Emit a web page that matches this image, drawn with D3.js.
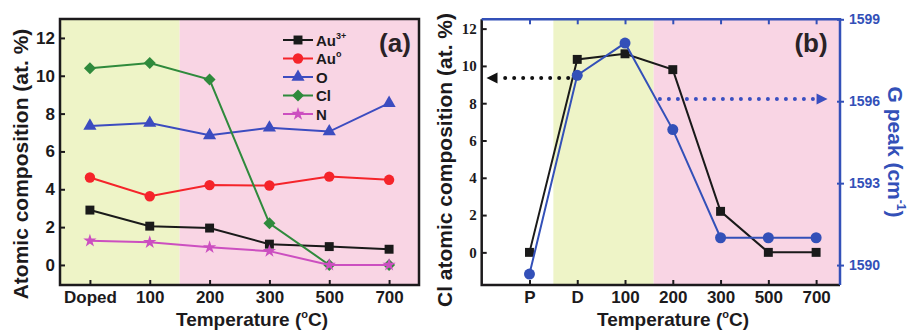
<!DOCTYPE html>
<html><head><meta charset="utf-8">
<script src="https://cdn.jsdelivr.net/npm/d3@7"></script>
<style>body{margin:0;background:#fff}svg{display:block}text{font-family:"Liberation Sans",Arial,sans-serif;font-weight:bold}</style>
</head><body>
<svg id="c" width="907" height="330"></svg>
<script>
// ---------- data ----------
const catsA = ["Doped","100","200","300","500","700"];
const au3  = [2.9, 2.05, 1.95, 1.1, 0.97, 0.83];
const au0  = [4.62, 3.63, 4.22, 4.2, 4.67, 4.5];
const oxy  = [7.35, 7.5, 6.85, 7.25, 7.05, 8.55];
const clA  = [10.4, 10.67, 9.8, 2.2, 0, 0];
const nit  = [1.28, 1.2, 0.93, 0.73, 0, 0];
const yTicksA = [0,2,4,6,8,10,12];

const catsB = ["P","D","100","200","300","500","700"];
const clB   = [0, 10.35, 10.65, 9.8, 2.2, 0, 0];
const gPeak = [1589.67, 1596.95, 1598.13, 1594.96, 1591.0, 1591.0, 1591.0];
const yTicksBL = [0,2,4,6,8,10,12];
const yTicksBR = [1590,1593,1596,1599];

const svg = d3.select("#c");
const DARK = "#1c1a1c", BLUE = "#3350b8";
const GREEN_BG = "#eef4c7", PINK_BG = "#f9d5e4";

// ---------- panel (a) ----------
const xA = d3.scaleLinear().domain([-0.5,5.5]).range([60,419]);
const yA = d3.scaleLinear().domain([-1.06,13]).range([285,19]);
const gA = svg.append("g");
gA.append("rect").attr("x",xA(-0.5)).attr("y",yA(13)).attr("width",xA(1.5)-xA(-0.5)).attr("height",yA(-1.06)-yA(13)).attr("fill",GREEN_BG);
gA.append("rect").attr("x",xA(1.5)).attr("y",yA(13)).attr("width",xA(5.5)-xA(1.5)).attr("height",yA(-1.06)-yA(13)).attr("fill",PINK_BG);

const seriesA = [
  {name:"Au", sup:"3+", vals:au3, color:"#1a1a1a", sym:"square"},
  {name:"Au", sup:"o",  vals:au0, color:"#f5242a", sym:"circle"},
  {name:"O",  sup:"",   vals:oxy, color:"#3c4cc0", sym:"triangle"},
  {name:"Cl", sup:"",   vals:clA, color:"#2f8a3c", sym:"diamond"},
  {name:"N",  sup:"",   vals:nit, color:"#cc4fc0", sym:"star"}
];
function symPath(t){
  if(t==="square") return d3.symbol(d3.symbolSquare,80)();
  if(t==="circle") return d3.symbol(d3.symbolCircle,85)();
  if(t==="triangle") return d3.symbol(d3.symbolTriangle,75)();
  if(t==="diamond") return d3.symbol(d3.symbolSquare,72)();
  return d3.symbol(d3.symbolStar,55)();
}
function symTransform(t,x,y){ return `translate(${x},${y})` + (t==="diamond"?" rotate(45)":""); }

const lineA = d3.line().x((d,i)=>xA(i)).y(d=>yA(d));
seriesA.forEach(s=>{
  gA.append("path").attr("d",lineA(s.vals)).attr("fill","none").attr("stroke",s.color).attr("stroke-width",2);
  gA.selectAll(null).data(s.vals).join("path")
    .attr("d",symPath(s.sym)).attr("transform",(d,i)=>symTransform(s.sym,xA(i),yA(d))).attr("fill",s.color);
});

// axes (a)
const axLA = gA.append("g").attr("transform",`translate(${xA(-0.5)},0)`)
  .call(d3.axisLeft(yA).tickValues(yTicksA).tickSize(-5).tickPadding(5));
const axBA = gA.append("g").attr("transform",`translate(0,${yA(-1.06)})`)
  .call(d3.axisBottom(xA).tickValues(d3.range(6)).tickFormat(i=>catsA[i]).tickSize(-5).tickPadding(6));
[axLA,axBA].forEach(a=>{
  a.select(".domain").remove();
  a.selectAll("line").attr("stroke",DARK).attr("stroke-width",2);
  a.selectAll("text").attr("fill",DARK).style("font-size","17px").style("font-family",'"Liberation Sans",Arial,sans-serif');
});
gA.append("rect").attr("x",xA(-0.5)).attr("y",yA(13)).attr("width",xA(5.5)-xA(-0.5)).attr("height",yA(-1.06)-yA(13))
  .attr("fill","none").attr("stroke",DARK).attr("stroke-width",2.5);

// legend (a)
seriesA.forEach((s,i)=>{
  const y = 40 + i*18.5;
  gA.append("line").attr("x1",283).attr("x2",313).attr("y1",y).attr("y2",y).attr("stroke",s.color).attr("stroke-width",2);
  gA.append("path").attr("d",symPath(s.sym)).attr("transform",symTransform(s.sym,298,y)).attr("fill",s.color);
  const t = gA.append("text").attr("x",316).attr("y",y+5.5).attr("fill",DARK).style("font-size","15px").text(s.name);
  if(s.sup) t.append("tspan").attr("dy",-7).style("font-size","9px").text(s.sup);
});
gA.append("text").attr("x",395).attr("y",52).attr("text-anchor","middle").attr("fill","#2a2226").style("font-size","26px").text("(a)");

// titles (a)
gA.append("text").attr("transform","translate(28,164) rotate(-90)").attr("text-anchor","middle").attr("fill",DARK)
  .style("font-size","21px").text("Atomic composition (at. %)");
const tA = gA.append("text").attr("x",252).attr("y",326).attr("text-anchor","middle").attr("fill",DARK).style("font-size","19px");
tA.append("tspan").text("Temperature (");
tA.append("tspan").attr("dy",-8).style("font-size","11px").text("o");
tA.append("tspan").attr("dy",8).text("C)");

// ---------- panel (b) ----------
const xB  = d3.scaleLinear().domain([-1,6.5]).range([481.7,840]);
const yBL = d3.scaleLinear().domain([-1.75,12.5]).range([285,19.3]);
const yBR = d3.scaleLinear().domain([1589.27,1599]).range([285,19.3]);
const gB = svg.append("g");
gB.append("rect").attr("x",xB(0.5)).attr("y",yBL(12.5)).attr("width",xB(2.6)-xB(0.5)).attr("height",yBL(-1.75)-yBL(12.5)).attr("fill",GREEN_BG);
gB.append("rect").attr("x",xB(2.6)).attr("y",yBL(12.5)).attr("width",xB(6.5)-xB(2.6)).attr("height",yBL(-1.75)-yBL(12.5)).attr("fill",PINK_BG);

// series
gB.append("path").attr("d",d3.line().x((d,i)=>xB(i)).y(d=>yBL(d))(clB)).attr("fill","none").attr("stroke","#1a1a1a").attr("stroke-width",2);
gB.selectAll(null).data(clB).join("path").attr("d",symPath("square")).attr("transform",(d,i)=>`translate(${xB(i)},${yBL(d)})`).attr("fill","#1a1a1a");
gB.append("path").attr("d",d3.line().x((d,i)=>xB(i)).y(d=>yBR(d))(gPeak)).attr("fill","none").attr("stroke",BLUE).attr("stroke-width",2);
gB.selectAll(null).data(gPeak).join("circle").attr("cx",(d,i)=>xB(i)).attr("cy",d=>yBR(d)).attr("r",5.5).attr("fill",BLUE);

// arrows
function dottedArrow(x1,x2,y,color,dir){
  gB.append("line").attr("x1",x1).attr("x2",x2 - dir*10).attr("y1",y).attr("y2",y)
    .attr("stroke",color).attr("stroke-width",4).attr("stroke-linecap","round").attr("stroke-dasharray","0,9");
  gB.append("path").attr("d",`M${x2},${y} L${x2-dir*11},${y-5.5} L${x2-dir*11},${y+5.5} Z`).attr("fill",color);
}
dottedArrow(xB(0.81), xB(-0.9), yBL(9.35), "#111", -1);
dottedArrow(xB(2.73), xB(6.24), yBR(1596.08), "#3a4fc0", 1);

// axes (b)
const axLB = gB.append("g").attr("transform",`translate(${xB(-1)},0)`)
  .call(d3.axisLeft(yBL).tickValues(yTicksBL).tickSize(-5).tickPadding(5));
axLB.selectAll("text").style("font-family",'"Liberation Serif","Times New Roman",serif').style("font-size","15px").attr("fill",DARK);
const axBB = gB.append("g").attr("transform",`translate(0,${yBL(-1.75)})`)
  .call(d3.axisBottom(xB).tickValues(d3.range(7)).tickFormat(i=>catsB[i]).tickSize(-5).tickPadding(6));
axBB.selectAll("text").style("font-size","17px").attr("fill",DARK).style("font-family",'"Liberation Sans",Arial,sans-serif');
const axTB = gB.append("g").attr("transform",`translate(0,${yBL(12.5)})`)
  .call(d3.axisTop(xB).tickValues(d3.range(7)).tickSize(-5).tickFormat(""));
const axRB = gB.append("g").attr("transform",`translate(${xB(6.5)},0)`)
  .call(d3.axisRight(yBR).tickValues(yTicksBR).tickFormat(d3.format("d")).tickSize(4).tickPadding(5));
axRB.selectAll(".tick line").attr("x1",-3);
axRB.selectAll("text").style("font-size","14px").attr("fill",BLUE).style("font-family",'"Liberation Sans",Arial,sans-serif');
[axLB,axBB].forEach(a=>{a.select(".domain").remove(); a.selectAll("line").attr("stroke",DARK).attr("stroke-width",2);});
[axTB,axRB].forEach(a=>{a.select(".domain").remove(); a.selectAll("line").attr("stroke",BLUE).attr("stroke-width",2);});
// frame
const L=xB(-1), R=xB(6.5), T=yBL(12.5), B=yBL(-1.75);
gB.append("path").attr("d",`M${L},${T} L${L},${B} L${R},${B}`).attr("fill","none").attr("stroke",DARK).attr("stroke-width",2.5);
gB.append("path").attr("d",`M${L},${T} L${R},${T} L${R},${B}`).attr("fill","none").attr("stroke",BLUE).attr("stroke-width",2.5);

gB.append("text").attr("x",811).attr("y",52).attr("text-anchor","middle").attr("fill","#2a2226").style("font-size","26px").text("(b)");

// titles (b)
gB.append("text").attr("transform","translate(452,160) rotate(-90)").attr("text-anchor","middle").attr("fill",DARK)
  .style("font-size","21px").text("Cl atomic composition (at. %)");
const tR = gB.append("text").attr("transform","translate(888,152) rotate(90)").attr("text-anchor","middle").attr("fill",BLUE).style("font-size","21px");
tR.append("tspan").text("G peak (cm");
tR.append("tspan").attr("dy",-9).style("font-size","12px").text("-1");
tR.append("tspan").attr("dy",9).text(")");
const tB = gB.append("text").attr("x",673).attr("y",326).attr("text-anchor","middle").attr("fill",DARK).style("font-size","19px");
tB.append("tspan").text("Temperature (");
tB.append("tspan").attr("dy",-8).style("font-size","11px").text("o");
tB.append("tspan").attr("dy",8).text("C)");
</script>
</body></html>
